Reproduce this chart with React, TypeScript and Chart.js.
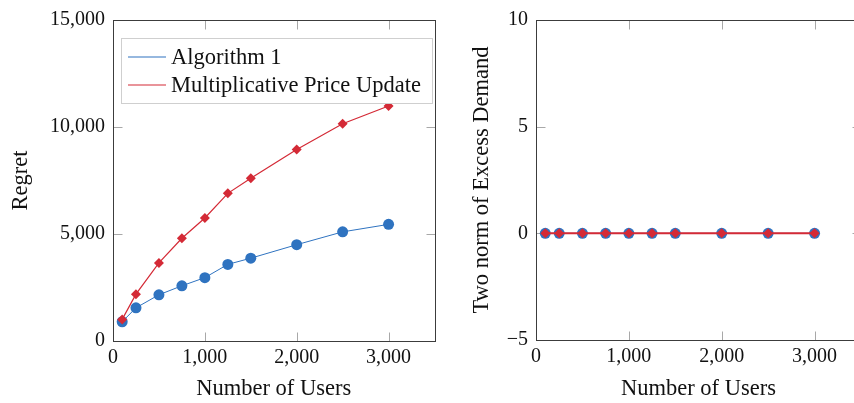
import React, { useEffect, useRef } from "react";
import { Chart, registerables } from "chart.js";

Chart.register(...registerables);

// ---- data ----
const users = [100, 250, 500, 750, 1000, 1250, 1500, 2000, 2500, 3000];
const alg1Regret = [900, 1550, 2160, 2580, 2960, 3580, 3870, 4500, 5100, 5450];
const mpuRegret = [1010, 2190, 3650, 4800, 5750, 6900, 7600, 8950, 10150, 10980];
const alg1Excess = [0, 0, 0, 0, 0, 0, 0, 0, 0, 0];
const mpuExcess = [0, 0, 0, 0, 0, 0, 0, 0, 0, 0];
const userTicks = [0, 1000, 2000, 3000];
const regretTicks = [0, 5000, 10000, 15000];
const excessTicks = [-5, 0, 5, 10];
const seriesNames = ["Algorithm 1", "Multiplicative Price Update"];

const BLUE = "#2f73c0";
const RED = "#d42a36";
const SERIES_COLORS = [BLUE, RED];
const FONT = "'Liberation Serif', 'Times New Roman', serif";

const framePlugin = {
  id: "frame",
  beforeDatasetsDraw(chart: any) {
    const { ctx, chartArea } = chart;
    const l = Math.round(chartArea.left) + 0.5;
    const r = Math.round(chartArea.right) + 0.5;
    const t = Math.round(chartArea.top) + 0.5;
    const b = Math.round(chartArea.bottom) + 0.5;
    const tl = 9;
    ctx.save();
    ctx.strokeStyle = "#a8a8a8";
    ctx.lineWidth = 1;
    const xs = chart.scales.x;
    xs.ticks.forEach((tk: any) => {
      const px = Math.round(xs.getPixelForValue(tk.value)) + 0.5;
      if (Math.abs(px - l) < 2 || Math.abs(px - r) < 2) return;
      ctx.beginPath();
      ctx.moveTo(px, b);
      ctx.lineTo(px, b - tl);
      ctx.moveTo(px, t);
      ctx.lineTo(px, t + tl);
      ctx.stroke();
    });
    const ys = chart.scales.y;
    ys.ticks.forEach((tk: any) => {
      const py = Math.round(ys.getPixelForValue(tk.value)) + 0.5;
      if (Math.abs(py - t) < 2 || Math.abs(py - b) < 2) return;
      ctx.beginPath();
      ctx.moveTo(l, py);
      ctx.lineTo(l + tl, py);
      ctx.moveTo(r, py);
      ctx.lineTo(r - tl, py);
      ctx.stroke();
    });
    ctx.strokeStyle = "#3c3c3c";
    ctx.strokeRect(l, t, r - l, b - t);
    ctx.restore();
  },
};

const legendPlugin = {
  id: "insideLegend",
  afterDraw(chart: any) {
    if (!chart.options.plugins.insideLegend?.show) return;
    const { ctx, chartArea } = chart;
    const x0 = Math.round(chartArea.left) + 8;
    const y0 = Math.round(chartArea.top) + 18;
    const w = 311;
    const h = 65;
    ctx.save();
    ctx.fillStyle = "#ffffff";
    ctx.fillRect(x0, y0, w, h);
    ctx.strokeStyle = "#cfcfcf";
    ctx.lineWidth = 1;
    ctx.strokeRect(x0 + 0.5, y0 + 0.5, w, h);
    seriesNames.forEach((name, i) => {
      const y = y0 + 19 + i * 28;
      ctx.beginPath();
      ctx.strokeStyle = SERIES_COLORS[i];
      ctx.lineWidth = 1.2;
      ctx.moveTo(x0 + 7, y);
      ctx.lineTo(x0 + 45, y);
      ctx.stroke();
      ctx.fillStyle = "#111";
      ctx.font = `22.5px ${FONT}`;
      ctx.textBaseline = "middle";
      ctx.textAlign = "left";
      ctx.fillText(name, x0 + 50, y + 1);
    });
    ctx.restore();
  },
};

function makeConfig(o: {
  a: number[];
  b: number[];
  yMin: number;
  yMax: number;
  yTicks: number[];
  yTitle: string;
  yWidth: number;
  yTitlePad: number;
  xHeight: number;
  padRight: number;
  redWidth: number;
  legend: boolean;
  fmt: (v: number) => string;
}): any {
  return {
    type: "line",
    data: {
      datasets: [
        {
          label: seriesNames[0],
          order: 1,
          data: users.map((u, i) => ({ x: u, y: o.a[i] })),
          borderColor: BLUE,
          backgroundColor: BLUE,
          borderWidth: 1,
          pointStyle: "circle",
          pointRadius: 5.5,
          pointBorderWidth: 0,
          pointBackgroundColor: BLUE,
        },
        {
          label: seriesNames[1],
          order: 0,
          data: users.map((u, i) => ({ x: u, y: o.b[i] })),
          borderColor: RED,
          backgroundColor: RED,
          borderWidth: o.redWidth,
          pointStyle: "rectRot",
          pointRadius: 5,
          pointBorderWidth: 0,
          pointBackgroundColor: RED,
        },
      ],
    },
    options: {
      responsive: false,
      animation: false,
      devicePixelRatio: 1,
      layout: { padding: { top: 15, right: o.padRight, left: 0, bottom: 0 } },
      plugins: {
        legend: { display: false },
        tooltip: { enabled: false },
        insideLegend: { show: o.legend },
      },
      scales: {
        x: {
          type: "linear",
          min: 0,
          max: 3500,
          afterBuildTicks: (s: any) => {
            s.ticks = userTicks.map((v) => ({ value: v }));
          },
          afterFit: (s: any) => {
            s.height = o.xHeight;
          },
          grid: { display: false, drawTicks: false },
          border: { display: false },
          ticks: {
            padding: 5,
            color: "#111",
            font: { family: FONT, size: 20 },
            maxRotation: 0,
            callback: (v: number) => v.toLocaleString("en-US"),
          },
          title: {
            display: true,
            text: "Number of Users",
            color: "#111",
            font: { family: FONT, size: 22.5 },
            padding: { top: 0, bottom: 0 },
          },
        },
        y: {
          type: "linear",
          min: o.yMin,
          max: o.yMax,
          afterBuildTicks: (s: any) => {
            s.ticks = o.yTicks.map((v) => ({ value: v }));
          },
          afterFit: (s: any) => {
            s.width = o.yWidth;
          },
          grid: { display: false, drawTicks: false },
          border: { display: false },
          ticks: {
            padding: 8,
            color: "#111",
            font: { family: FONT, size: 20 },
            callback: (v: number) => o.fmt(v),
          },
          title: {
            display: true,
            text: o.yTitle,
            color: "#111",
            font: { family: FONT, size: 22.5 },
            padding: { top: o.yTitlePad, bottom: 0 },
          },
        },
      },
    },
    plugins: [framePlugin, legendPlugin],
  };
}

function ChartCanvas({ config, left, width }: { config: any; left: number; width: number }) {
  const ref = useRef<HTMLCanvasElement>(null);
  useEffect(() => {
    const chart = new Chart(ref.current as HTMLCanvasElement, config);
    return () => chart.destroy();
  }, []);
  return (
    <canvas
      ref={ref}
      width={width}
      height={403}
      style={{ position: "absolute", left, top: 0, width, height: 403, display: "block" }}
    />
  );
}

export default function App() {
  const leftCfg = makeConfig({
    a: alg1Regret,
    b: mpuRegret,
    yMin: 0,
    yMax: 15000,
    yTicks: regretTicks,
    yTitle: "Regret",
    yWidth: 113,
    yTitlePad: 8,
    xHeight: 62,
    padRight: 2,
    redWidth: 1.2,
    legend: true,
    fmt: (v) => v.toLocaleString("en-US"),
  });
  const rightCfg = makeConfig({
    a: alg1Excess,
    b: mpuExcess,
    yMin: -5,
    yMax: 10,
    yTicks: excessTicks,
    yTitle: "Two norm of Excess Demand",
    yWidth: 96,
    yTitlePad: 29,
    xHeight: 63,
    padRight: 9,
    redWidth: 2,
    legend: false,
    fmt: (v) => String(v).replace("-", "\u2212"),
  });
  return (
    <div
      style={{
        position: "absolute",
        left: 0,
        top: 0,
        width: 854,
        height: 403,
        overflow: "hidden",
        background: "#ffffff",
      }}
    >
      <ChartCanvas config={leftCfg} left={0} width={440} />
      <ChartCanvas config={rightCfg} left={440} width={430} />
    </div>
  );
}
